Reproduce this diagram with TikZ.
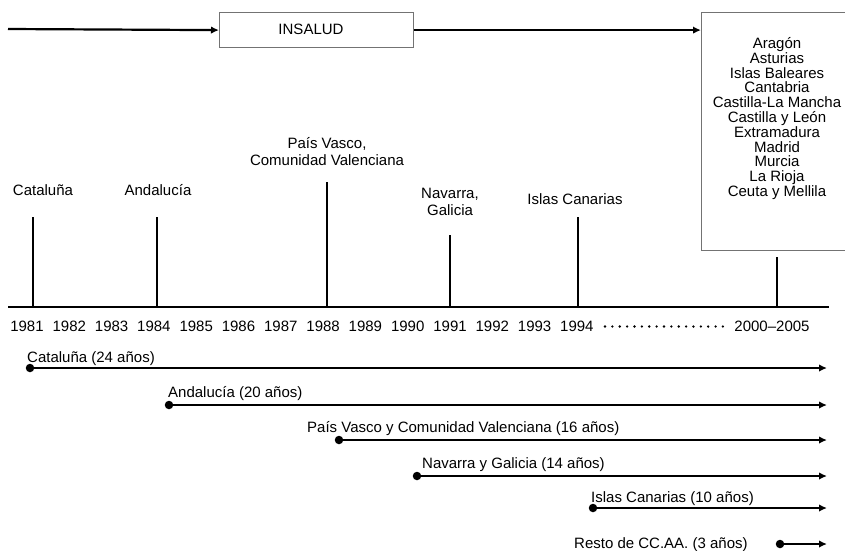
\documentclass[tikz,border=0pt]{standalone}
\usepackage{fontspec}
\setmainfont{Liberation Sans}
\usetikzlibrary{arrows.meta}
\begin{document}
\begin{tikzpicture}[x=1pt,y=-1pt,
  lbl/.style={font=\fontsize{15}{18}\selectfont, inner sep=0pt, anchor=base},
  arr/.style={line width=2.2pt, -{Latex[length=8pt,width=7.5pt]}},
  tickline/.style={line width=2.1pt},
  gbox/.style={draw=black!55, line width=1.2pt, fill=white, inner sep=0pt},
  dotnode/.style={circle, fill=black, inner sep=0pt, minimum size=8.5pt}]
\useasboundingbox (0,0) rectangle (845,550);

% top row
\coordinate (tstart) at (8,29);
\node[gbox, anchor=north west, minimum width=194pt, minimum height=35pt] (insalud) at (219,12) {};
\node[lbl] (insaludtxt) at (311,34.4) {INSALUD};
\node[gbox, anchor=north west, minimum width=170pt, minimum height=238pt] (resto) at (701,12) {};
\draw[arr] (tstart) -- (insalud.west);
\draw[arr] (insalud.east) -- (insalud.east -| resto.west);
\foreach \t [count=\i] in {Aragón, Asturias, Islas Baleares, Cantabria, Castilla-La Mancha, Castilla y León, Extramadura, Madrid, Murcia, La Rioja, Ceuta y Mellila}
  \node[lbl] (r\i) at (777, {48.4+14.8*(\i-1)}) {\t};

% axis
\coordinate (axL) at (8,307);
\coordinate (axR) at (829,307);
\draw[line width=2.8pt] (axL) -- (axR);
\foreach \n/\x/\t in {a/33/217, b/157/217, c/327/182, d/450/235, e/578/217, f/777/257} {
  \coordinate (top\n) at (\x,\t);
  \coordinate (bot\n) at (\x,307);
  \draw[tickline] (top\n) -- (bot\n);
}

% labels above ticks
\node[lbl] (lcat) at (43,195.4) {Cataluña};
\node[lbl] (land) at (158,195.4) {Andalucía};
\node[lbl] (lpv1) at (327,148.4) {País Vasco,};
\node[lbl] (lpv2) at (327,165.4) {Comunidad Valenciana};
\node[lbl] (lnav1) at (450,198.4) {Navarra,};
\node[lbl] (lnav2) at (450,215.4) {Galicia};
\node[lbl] (lcan) at (575,204.4) {Islas Canarias};

% years
\foreach \k in {0,...,13} {
  \pgfmathtruncatemacro\yr{1981+\k}
  \node[lbl] (y\yr) at ({27+42.3*\k},331) {\yr};
}
\node[lbl] (y2000) at (772,331) {2000–2005};
\coordinate (d1) at (605,326.5);
\coordinate (d2) at (723,326.5);
\draw[line width=2.6pt, line cap=round, dash pattern=on 0pt off 7.37pt] (d1) -- (d2);

% duration bars
\foreach \n/\dx/\dy/\lx/\ly/\t in {
  cat/30/368/27/362.4/Cataluña (24 años),
  and/169/405/168/397.4/Andalucía (20 años),
  pv/339/440/307/432.4/País Vasco y Comunidad Valenciana (16 años),
  nav/417/476/422/468.4/Navarra y Galicia (14 años),
  can/593/508/591/502.4/Islas Canarias (10 años),
  rest/780/544/574/548.4/Resto de CC.AA. (3 años)} {
  \node[dotnode] (s\n) at (\dx,\dy) {};
  \coordinate (e\n) at (827,\dy);
  \draw[arr] (s\n.center) -- (e\n);
  \node[lbl, anchor=base west] (t\n) at (\lx,\ly) {\t};
}
\end{tikzpicture}
\end{document}
